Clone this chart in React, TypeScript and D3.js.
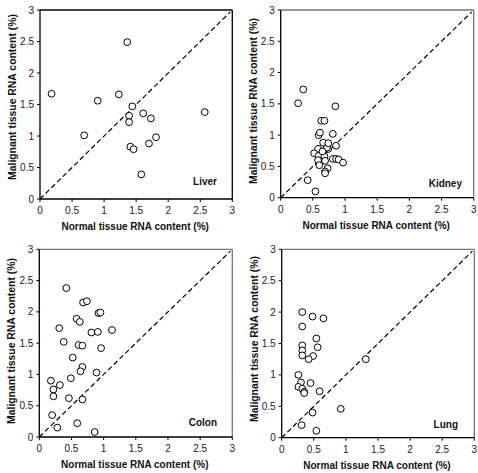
import React from "react";
import * as d3 from "d3";

// ---- Data ----
const tickValues = [0, 0.5, 1, 1.5, 2, 2.5, 3];
const tickLabels = ["0", "0.5", "1", "1.5", "2", "2.5", "3"];
const xTitle = "Normal tissue RNA content (%)";
const yTitle = "Malignant tissue RNA content (%)";

const liverNormal = [1.36, 0.18, 0.90, 1.23, 1.44, 1.39, 1.39, 1.61, 1.73, 2.57, 0.69, 1.81, 1.70, 1.41, 1.46, 1.58];
const liverMalignant = [2.49, 1.67, 1.56, 1.66, 1.47, 1.32, 1.22, 1.36, 1.28, 1.38, 1.01, 0.98, 0.88, 0.83, 0.79, 0.39];

const kidneyNormal = [0.35, 0.27, 0.85, 0.63, 0.68, 0.59, 0.61, 0.81, 0.66, 0.86, 0.58, 0.71, 0.74, 0.72, 0.74, 0.52, 0.59, 0.68, 0.81, 0.86, 0.90, 0.97, 0.58, 0.60, 0.69, 0.73, 0.69, 0.69, 0.42, 0.54, 0.65];
const kidneyMalignant = [1.73, 1.51, 1.46, 1.23, 1.23, 1.00, 1.04, 1.02, 0.88, 0.83, 0.78, 0.78, 0.78, 0.80, 0.87, 0.71, 0.67, 0.66, 0.62, 0.62, 0.61, 0.56, 0.60, 0.52, 0.59, 0.47, 0.42, 0.39, 0.28, 0.10, 0.74];

const colonNormal = [0.42, 0.68, 0.74, 0.92, 0.95, 0.58, 0.63, 0.31, 0.81, 0.91, 1.13, 0.38, 0.61, 0.67, 0.96, 0.52, 0.67, 0.64, 0.89, 0.49, 0.18, 0.32, 0.22, 0.22, 0.46, 0.67, 0.20, 0.59, 0.28, 0.86];
const colonMalignant = [2.38, 2.15, 2.17, 1.98, 1.99, 1.89, 1.84, 1.74, 1.67, 1.68, 1.71, 1.52, 1.47, 1.46, 1.42, 1.27, 1.12, 1.05, 1.03, 0.94, 0.90, 0.83, 0.76, 0.65, 0.62, 0.60, 0.35, 0.22, 0.15, 0.08];

const lungNormal = [0.32, 0.48, 0.65, 0.32, 0.54, 0.32, 0.56, 0.32, 0.32, 0.49, 0.42, 1.31, 0.26, 0.30, 0.45, 0.26, 0.32, 0.35, 0.35, 0.59, 0.92, 0.48, 0.31, 0.54];
const lungMalignant = [2.00, 1.93, 1.90, 1.77, 1.58, 1.47, 1.44, 1.39, 1.31, 1.30, 1.25, 1.25, 1.00, 0.88, 0.87, 0.81, 0.78, 0.73, 0.71, 0.74, 0.46, 0.40, 0.20, 0.11];

const panelNames = ["Liver", "Kidney", "Colon", "Lung"];
const panelNormal = [liverNormal, kidneyNormal, colonNormal, lungNormal];
const panelMalignant = [liverMalignant, kidneyMalignant, colonMalignant, lungMalignant];

// ---- Layout ----
const layout = [
  { left: 40, right: 232.3, top: 10, bottom: 199, frame: "#000", yTitleCy: 97, labelX: 217, labelY: 185 },
  { left: 280.7, right: 473.7, top: 10, bottom: 197.7, frame: "#777", yTitleCy: 101, labelX: 462, labelY: 187 },
  { left: 39.3, right: 232.3, top: 249.3, bottom: 437, frame: "#777", yTitleCy: 341, labelX: 217, labelY: 426 },
  { left: 281.7, right: 474.3, top: 249.3, bottom: 437.7, frame: "#777", yTitleCy: 339, labelX: 458, labelY: 428 },
];

const font = "'Liberation Sans', Arial, Helvetica, sans-serif";

function Panel({ idx }: { idx: number }) {
  const L = layout[idx];
  const x = d3.scaleLinear().domain([0, 3]).range([L.left, L.right]);
  const y = d3.scaleLinear().domain([0, 3]).range([L.bottom, L.top]);
  const xs = panelNormal[idx];
  const ys = panelMalignant[idx];
  const diag = d3.line<number>().x((d) => x(d)).y((d) => y(d))([0, 2.97]);
  const yTitleX = L.left - 27.5;
  return (
    <g fontFamily={font}>
      {/* frame top & right */}
      <line x1={L.left} x2={L.right} y1={L.top} y2={L.top} stroke={L.frame} strokeWidth={1.3} />
      <line x1={L.right} x2={L.right} y1={L.top} y2={L.bottom} stroke={L.frame} strokeWidth={1.3} />
      {/* diagonal */}
      <path d={diag ?? ""} stroke="#000" strokeWidth={1.2} strokeDasharray="5,3" fill="none" />
      {/* axes */}
      <line x1={L.left} x2={L.left} y1={L.top} y2={L.bottom} stroke="#000" strokeWidth={1.3} />
      <line x1={L.left} x2={L.right} y1={L.bottom} y2={L.bottom} stroke="#000" strokeWidth={1.3} />
      {tickValues.map((t, i) => (
        <g key={"y" + i}>
          <line x1={L.left - 3} x2={L.left} y1={y(t)} y2={y(t)} stroke="#000" />
          <text x={L.left - 6} y={y(t)} dy="0.35em" textAnchor="end" fontSize={10} fill="#222">
            {tickLabels[i]}
          </text>
        </g>
      ))}
      {tickValues.map((t, i) => (
        <g key={"x" + i}>
          <line x1={x(t)} x2={x(t)} y1={L.bottom} y2={L.bottom + 3} stroke="#000" />
          <text x={x(t)} y={L.bottom + 15} textAnchor="middle" fontSize={10} fill="#222">
            {tickLabels[i]}
          </text>
        </g>
      ))}
      {/* points */}
      {xs.map((v, i) => (
        <circle key={i} cx={x(v)} cy={y(ys[i])} r={3.4} fill="#fff" stroke="#000" strokeWidth={1} />
      ))}
      {/* panel label */}
      <text x={L.labelX} y={L.labelY} textAnchor="end" fontSize={10} fontWeight="bold" fill="#111">
        {panelNames[idx]}
      </text>
      {/* axis titles */}
      <text x={(L.left + L.right) / 2 - 1} y={L.bottom + 31} textAnchor="middle" fontSize={10} fontWeight="bold" fill="#111">
        {xTitle}
      </text>
      <text
        transform={`translate(${yTitleX},${L.yTitleCy}) rotate(-90)`}
        textAnchor="middle"
        dy="0.35em"
        fontSize={10.4}
        fontWeight="bold"
        fill="#111"
      >
        {yTitle}
      </text>
    </g>
  );
}

export default function App() {
  return (
    <svg
      width={478}
      height={473}
      style={{ position: "absolute", left: 0, top: 0, background: "#fff" }}
    >
      <rect width={478} height={473} fill="#fff" />
      {panelNames.map((_, i) => (
        <Panel key={i} idx={i} />
      ))}
    </svg>
  );
}
